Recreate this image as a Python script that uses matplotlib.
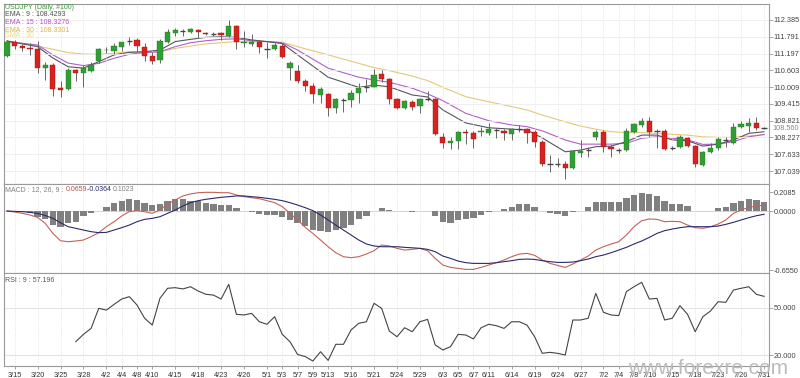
import numpy as np
import pandas as pd
import matplotlib
matplotlib.use('Agg')
import matplotlib.pyplot as plt

plt.rcParams['font.family'] = ['Liberation Sans', 'DejaVu Sans']

# 100 daily bars, 2019-03-14 .. 2019-07-31
dates = pd.bdate_range('2019-03-14', '2019-07-31')
date_ticks = ['3/15', '3/20', '3/25', '3/28', '4/2', '4/4', '4/8', '4/10', '4/15', '4/18',
              '4/23', '4/26', '5/1', '5/3', '5/7', '5/9', '5/13', '5/16', '5/21', '5/24',
              '5/29', '6/3', '6/5', '6/7', '6/11', '6/14', '6/19', '6/24', '6/27', '7/2',
              '7/4', '7/8', '7/10', '7/15', '7/18', '7/23', '7/26', '7/31']

opens = [111.12, 111.62, 111.46, 111.40, 111.36, 110.68, 110.79, 109.98, 109.93, 110.63,
         110.50, 110.59, 110.92, 111.31, 111.29, 111.44, 111.64, 111.68, 111.44, 111.12,
         110.97, 111.62, 111.91, 112.01, 111.96, 112.03, 111.94, 111.91, 111.91, 111.83,
         112.17, 111.56, 111.52, 111.62, 111.38, 111.35, 111.48, 110.68, 110.59, 110.23,
         110.06, 109.73, 109.75, 109.26, 109.58, 109.55, 109.81, 110.02, 110.02, 110.47,
         110.30, 109.58, 109.26, 109.49, 109.34, 109.59, 109.59, 108.25, 108.02, 108.11,
         108.43, 108.39, 108.42, 108.39, 108.49, 108.46, 108.35, 108.55, 108.52, 108.43,
         108.08, 107.31, 107.28, 107.28, 107.14, 107.68, 107.78, 108.23, 108.41, 107.90,
         107.78, 107.78, 108.43, 108.67, 108.82, 108.46, 108.46, 107.88, 107.88, 108.22,
         107.93, 107.25, 107.70, 107.84, 108.16, 108.02, 108.59, 108.63, 108.75, 108.57]
highs = [111.68, 111.68, 111.52, 111.58, 111.65, 110.91, 110.86, 110.23, 110.68, 110.65,
         110.79, 110.91, 111.40, 111.44, 111.58, 111.62, 111.79, 111.76, 111.56, 111.24,
         111.70, 112.06, 112.09, 112.06, 112.11, 112.06, 111.97, 111.97, 111.97, 112.385,
         112.21, 112.01, 111.88, 111.68, 111.62, 111.58, 111.58, 110.93, 110.79, 110.29,
         110.14, 110.00, 109.79, 109.63, 109.63, 109.91, 110.17, 110.29, 110.64, 110.61,
         110.34, 109.63, 109.55, 109.55, 109.63, 109.88, 109.63, 108.39, 108.25, 108.46,
         108.52, 108.46, 108.61, 108.75, 108.55, 108.52, 108.55, 108.67, 108.55, 108.49,
         108.14, 107.61, 107.50, 107.40, 107.76, 108.14, 107.90, 108.49, 108.49, 107.96,
         107.85, 108.57, 108.75, 108.90, 108.96, 108.53, 108.52, 107.94, 108.31, 108.25,
         107.96, 107.76, 108.02, 108.25, 108.25, 108.73, 108.82, 108.90, 108.96, 108.59]
lows = [111.06, 111.36, 111.30, 111.15, 110.52, 110.26, 109.70, 109.67, 109.91, 110.23,
        110.00, 110.53, 110.85, 111.21, 111.18, 111.30, 111.50, 111.26, 110.94, 110.83,
        110.85, 111.56, 111.82, 111.82, 111.91, 111.74, 111.85, 111.82, 111.68, 111.79,
        111.35, 111.44, 111.46, 111.21, 111.03, 111.32, 111.03, 110.26, 110.14, 109.88,
        109.45, 109.46, 108.99, 109.10, 109.14, 109.32, 109.46, 109.85, 110.00, 110.20,
        109.41, 109.23, 109.22, 109.20, 109.10, 109.53, 108.31, 107.84, 107.81, 107.81,
        107.99, 107.84, 108.28, 108.31, 108.20, 108.14, 108.14, 108.43, 108.02, 107.90,
        107.22, 107.00, 107.18, 106.76, 107.11, 107.55, 107.54, 108.14, 107.72, 107.54,
        107.67, 107.76, 108.37, 108.61, 108.25, 107.84, 107.78, 107.78, 107.84, 107.90,
        107.19, 107.22, 107.67, 107.78, 107.90, 107.99, 108.55, 108.43, 108.49, 108.53]
closes = [111.62, 111.475, 111.38, 111.37, 110.70, 110.78, 109.93, 109.92, 110.63, 110.50,
          110.68, 110.79, 111.35, 111.33, 111.48, 111.61, 111.63, 111.46, 111.12, 110.93,
          111.64, 111.97, 112.03, 112.00, 112.06, 111.95, 111.89, 111.90, 111.84, 112.17,
          111.61, 111.62, 111.62, 111.42, 111.37, 111.50, 111.06, 110.87, 110.23, 110.06,
          109.75, 109.93, 109.26, 109.58, 109.57, 109.81, 109.97, 110.01, 110.44, 110.30,
          109.58, 109.26, 109.52, 109.32, 109.58, 109.58, 108.34, 108.02, 108.11, 108.41,
          108.37, 108.16, 108.46, 108.52, 108.48, 108.37, 108.53, 108.54, 108.40, 108.08,
          107.29, 107.30, 107.27, 107.14, 107.73, 107.75, 107.77, 108.41, 107.89, 107.81,
          107.77, 108.47, 108.70, 108.82, 108.43, 108.45, 107.82, 107.87, 108.23, 107.92,
          107.28, 107.70, 107.84, 108.16, 108.15, 108.61, 108.69, 108.75, 108.57, 108.56]

# moving averages at these bars
ema_idx = [0, 4, 6, 8, 10, 12, 14, 16, 18, 20, 22, 24, 26, 28, 30, 32, 34, 36, 38, 42, 46, 48,
           50, 53, 55, 57, 60, 63, 66, 68, 70, 73, 75, 77, 79, 81, 83, 85, 87, 89, 91, 93, 95, 97, 99]
ema9 = [111.64, 111.44, 111.04, 110.73, 110.68, 110.91, 111.15, 111.24, 111.26, 111.32, 111.62,
        111.70, 111.77, 111.79, 111.77, 111.68, 111.62, 111.55, 111.15, 110.36, 110.00, 110.08,
        110.02, 109.73, 109.66, 109.20, 108.74, 108.57, 108.52, 108.49, 108.21, 107.72, 107.78,
        107.90, 107.92, 108.08, 108.31, 108.31, 108.14, 108.11, 107.92, 107.99, 108.14, 108.37, 108.43]
ema15 = [111.62, 111.50, 111.15, 110.86, 110.77, 110.85, 111.03, 111.17, 111.23, 111.26, 111.44,
         111.58, 111.65, 111.70, 111.72, 111.65, 111.62, 111.58, 111.32, 110.68, 110.36, 110.26,
         110.18, 109.97, 109.77, 109.53, 109.08, 108.82, 108.67, 108.61, 108.46, 108.14, 107.99,
         107.99, 107.99, 108.02, 108.20, 108.25, 108.20, 108.14, 107.98, 107.99, 108.08, 108.25, 108.33]
ema30 = [111.65, 111.46, 111.35, 111.23, 111.18, 111.17, 111.21, 111.26, 111.26, 111.26, 111.38,
         111.46, 111.54, 111.58, 111.62, 111.62, 111.62, 111.60, 111.44, 111.15, 110.85, 110.70,
         110.59, 110.40, 110.24, 110.00, 109.67, 109.49, 109.32, 109.20, 109.02, 108.78, 108.63,
         108.52, 108.43, 108.40, 108.40, 108.37, 108.34, 108.31, 108.25, 108.23, 108.23, 108.28, 108.33]

macd = [0.000, -0.011, -0.026, -0.044, -0.070, -0.136, -0.247, -0.328, -0.339, -0.331,
        -0.320, -0.283, -0.239, -0.173, -0.118, -0.055, -0.007, 0.004, -0.007, -0.026,
        0.011, 0.077, 0.121, 0.166, 0.188, 0.202, 0.206, 0.206, 0.202, 0.202,
        0.177, 0.158, 0.147, 0.136, 0.114, 0.092, 0.048, -0.026, -0.099, -0.180,
        -0.247, -0.320, -0.394, -0.460, -0.504, -0.515, -0.504, -0.475, -0.438, -0.375,
        -0.386, -0.412, -0.431, -0.423, -0.412, -0.438, -0.523, -0.596, -0.622, -0.633,
        -0.644, -0.644, -0.622, -0.596, -0.570, -0.541, -0.504, -0.475, -0.467, -0.489,
        -0.541, -0.578, -0.600, -0.622, -0.585, -0.541, -0.497, -0.431, -0.394, -0.364,
        -0.339, -0.265, -0.173, -0.107, -0.088, -0.092, -0.118, -0.114, -0.118, -0.155,
        -0.184, -0.191, -0.173, -0.144, -0.099, -0.026, 0.011, 0.040, 0.055, 0.0659]
signal = [0.000, -0.004, -0.007, -0.015, -0.026, -0.050, -0.081, -0.130, -0.173, -0.191,
          -0.210, -0.228, -0.239, -0.236, -0.210, -0.184, -0.155, -0.118, -0.092, -0.081,
          -0.063, -0.026, 0.011, 0.055, 0.092, 0.114, 0.129, 0.140, 0.151, 0.158,
          0.166, 0.166, 0.158, 0.151, 0.140, 0.129, 0.114, 0.092, 0.066, 0.037,
          0.004, -0.044, -0.099, -0.155, -0.210, -0.265, -0.320, -0.364, -0.386, -0.394,
          -0.394, -0.394, -0.401, -0.406, -0.412, -0.423, -0.449, -0.497, -0.523, -0.552,
          -0.570, -0.578, -0.578, -0.578, -0.570, -0.559, -0.548, -0.534, -0.530, -0.534,
          -0.548, -0.559, -0.567, -0.567, -0.563, -0.548, -0.530, -0.504, -0.486, -0.460,
          -0.431, -0.401, -0.364, -0.331, -0.291, -0.247, -0.217, -0.199, -0.184, -0.173,
          -0.173, -0.173, -0.173, -0.166, -0.147, -0.125, -0.099, -0.074, -0.052, -0.0364]
hist = [0.000, -0.007, -0.015, -0.026, -0.070, -0.092, -0.155, -0.173, -0.129, -0.118,
        -0.055, -0.026, -0.005, 0.048, 0.092, 0.114, 0.132, 0.121, 0.092, 0.063,
        0.077, 0.110, 0.129, 0.129, 0.114, 0.107, 0.092, 0.077, 0.063, 0.063,
        0.029, 0.004, -0.015, -0.037, -0.044, -0.044, -0.063, -0.099, -0.136, -0.166,
        -0.210, -0.217, -0.228, -0.210, -0.191, -0.155, -0.092, -0.055, -0.003, 0.029,
        0.011, 0.000, -0.005, -0.010, 0.000, 0.000, -0.055, -0.118, -0.129, -0.099,
        -0.092, -0.074, -0.040, -0.015, 0.000, 0.022, 0.048, 0.074, 0.074, 0.048,
        0.000, -0.026, -0.037, -0.052, -0.015, 0.005, 0.048, 0.103, 0.103, 0.103,
        0.103, 0.140, 0.177, 0.203, 0.188, 0.166, 0.114, 0.077, 0.077, 0.055,
        0.004, 0.000, -0.005, 0.029, 0.048, 0.085, 0.114, 0.129, 0.121, 0.1023]

rsi = [28.5, 33.1, 36.9, 49.6, 48.5, 52.1, 55.5, 57.0, 51.7, 43.3, 39.0, 55.9, 62.3, 62.7, 61.9,
       63.3, 60.6, 58.5, 58.0, 55.5, 64.8, 45.8, 45.4, 46.4, 41.1, 39.5, 44.3, 33.1, 28.5, 20.4,
       19.0, 16.2, 22.1, 16.6, 26.8, 26.8, 35.9, 40.1, 41.1, 52.8, 49.6, 35.2, 31.6, 37.3, 34.8,
       41.1, 42.6, 26.4, 23.2, 25.3, 33.1, 32.7, 30.2, 37.3, 39.5, 38.6, 36.9, 41.1, 41.1, 39.0,
       31.6, 21.1, 21.7, 21.1, 20.0, 42.2, 42.2, 43.3, 59.1, 47.1, 45.4, 45.0, 60.2, 63.3, 66.1,
       55.5, 55.9, 42.2, 43.3, 51.3, 45.8, 34.8, 44.3, 47.9, 53.8, 53.4, 61.2, 62.3, 63.3, 58.5, 57.196]

price_ticks = [112.385, 111.791, 111.197, 110.603, 110.009, 109.415, 108.821, 108.227, 107.633, 107.039]
last_price = 108.560

W, H = 800, 378
fig = plt.figure(figsize=(W / 100, H / 100), dpi=100)


def box(x0, y0, x1, y1):
    return [x0 / W, 1 - y1 / H, (x1 - x0) / W, (y1 - y0) / H]


ax1 = fig.add_axes(box(4, 4, 769, 184))
ax2 = fig.add_axes(box(4, 184, 769, 273), sharex=ax1)
ax3 = fig.add_axes(box(4, 273, 769, 366), sharex=ax1)

x = np.arange(len(closes))
o = np.array(opens)
c = np.array(closes)
up = c > o + 0.012
down = c < o - 0.012
flat = ~(up | down)

# candles
ax1.vlines(x, lows, highs, color='#666666', lw=0.7, zorder=2)
body_lo = np.minimum(o, c)
body_h = np.abs(c - o)
ax1.bar(x[up], body_h[up], bottom=body_lo[up], width=0.68, color='#2f9e34',
        edgecolor='#2a7a2a', lw=0.3, zorder=3)
ax1.bar(x[down], body_h[down], bottom=body_lo[down], width=0.68, color='#d8221f',
        edgecolor='#a01818', lw=0.3, zorder=3)
ax1.hlines(c[flat], x[flat] - 0.34, x[flat] + 0.34, color='#444444', lw=1.0, zorder=3)

ax1.plot(ema_idx, ema30, color='#e2c977', lw=0.8, zorder=1)
ax1.plot(ema_idx, ema15, color='#b35fc6', lw=0.8, zorder=1)
ax1.plot(ema_idx, ema9, color='#555560', lw=0.8, zorder=1)

# MACD panel
ax2.bar(x, hist, width=0.82, color='#808080', zorder=2)
ax2.axhline(0, color='#cccccc', lw=0.6, zorder=1)
ax2.plot(x, macd, color='#c0645a', lw=0.8, zorder=3)
ax2.plot(x, signal, color='#2b2b6b', lw=0.8, zorder=3)

# RSI panel
ax3.plot(x[9:], rsi, color='#444444', lw=0.8)
for lv in (50, 20):
    ax3.axhline(lv, color='#dddddd', lw=0.6, zorder=0)

# scales
ax1.set_xlim(-0.39, 99.65)
ax1.set_ylim(106.579, 112.951)
ax2.set_ylim(-0.684, 0.298)
ax3.set_ylim(13.05, 72.0)

tick_pos = [list(dates.strftime('%-m/%-d')).index(t) for t in date_ticks]
ax3.set_xticks(tick_pos)
ax3.set_xticklabels(date_ticks)

ax1.set_yticks(price_ticks)
ax1.set_yticklabels(['%.3f' % v for v in price_ticks])
ax2.set_yticks([0.2085, 0.0, -0.655])
ax2.set_yticklabels(['0.2085', '0.0000', '-0.6550'])
ax3.set_yticks([50, 20])
ax3.set_yticklabels(['50.000', '20.000'])

for ax in (ax1, ax2, ax3):
    ax.yaxis.tick_right()
    ax.tick_params(axis='y', length=3, width=0.6, color='#999999', labelsize=5.3,
                   labelcolor='#444444', pad=0.5)
    ax.tick_params(axis='x', length=2, width=0.6, color='#999999', labelsize=5.3,
                   labelcolor='#333333', pad=2)
    ax.grid(axis='x', color='#dcdcdc', ls=':', lw=0.6)
    for s in ax.spines.values():
        s.set_color('#9a9a9a')
        s.set_linewidth(0.8)
    ax.set_facecolor('white')
ax1.grid(axis='y', color='#ececec', lw=0.6)
ax1.tick_params(axis='x', labelbottom=False, length=0)
ax2.tick_params(axis='x', labelbottom=False, length=0)

ax1.text(1.0045, last_price, '%.3f' % last_price, transform=ax1.get_yaxis_transform(),
         fontsize=5.3, color='#888888', va='center', ha='left')

# panel captions
leg = [('USDJPY (Daily, #100)', '#3d9a3d'), ('EMA : 9 : 108.4293', '#505050'),
       ('EMA : 15 : 108.3276', '#b050c8'), ('EMA : 30 : 108.3301', '#d6b655'),
       ('SMA : 30', '#e8d898')]
for k, (txt, col) in enumerate(leg):
    yc = [7.3, 15.0, 22.7, 30.2, 35.8][k]
    fig.text(5 / W, 1 - yc / H, txt, color=col, fontsize=5.0, va='center', ha='left')

fig.canvas.draw()
r = fig.canvas.get_renderer()
xp = 5
for txt, col in [('MACD : 12, 26, 9 : ', '#808080'), ('0.0659', '#b5514b'),
                 ('-0.0364 ', '#2b2b6b'), ('0.1023', '#808080')]:
    t = fig.text(xp / W, 1 - 189.5 / H, txt, color=col, fontsize=5.0, va='center', ha='left')
    xp += t.get_window_extent(r).width
fig.text(5 / W, 1 - 280.5 / H, 'RSI : 9 : 57.196', color='#555555', fontsize=5.0,
         va='center', ha='left')

fig.text(628 / W, 1 - 374 / H, 'www.forexre.com', color='#bcbcbc', fontsize=15,
         va='baseline', ha='left', zorder=0)

fig.savefig('out.png', dpi=100, facecolor='white')
